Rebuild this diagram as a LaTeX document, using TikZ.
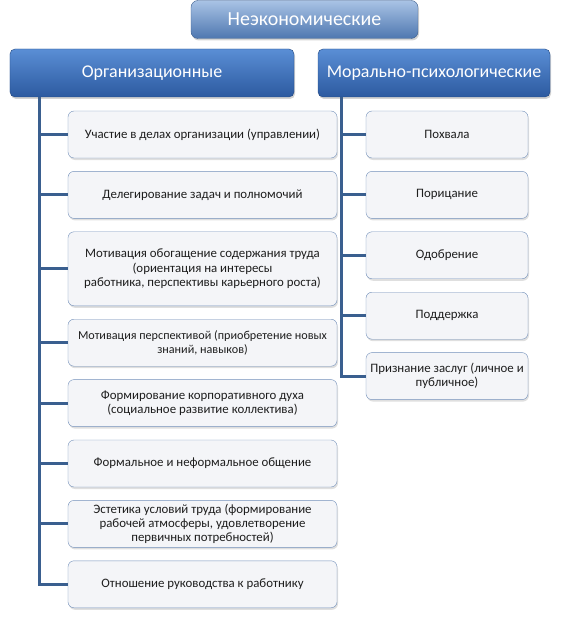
\documentclass[tikz,border=0pt]{standalone}
\usepackage{fontspec}
\setmainfont{Carlito}
\usetikzlibrary{positioning, shadows}

\definecolor{hdrtop}{HTML}{A9C3E5}
\definecolor{hdrmid}{HTML}{7097CB}
\definecolor{hdrbot}{HTML}{4E77B0}
\definecolor{cattop}{HTML}{5A8ED5}
\definecolor{catmid}{HTML}{3C71BF}
\definecolor{catbot}{HTML}{2C5AA0}
\definecolor{itemfill}{HTML}{F4F5F8}
\definecolor{itemline}{HTML}{7390BA}
\definecolor{linkblue}{HTML}{3A5F8F}
\definecolor{itemtext}{HTML}{1E1E1E}

\begin{document}
\begin{tikzpicture}[
    x=1bp, y=-1bp,
    node distance=13bp,
    topbox/.style={draw=hdrbot!80!black, rounded corners=7bp, top color=hdrtop, middle color=hdrmid, bottom color=hdrbot, text=white, minimum height=38bp, font=\fontsize{20}{24}\selectfont, drop shadow={opacity=0.35, shadow xshift=1bp, shadow yshift=-2bp}},
    catbox/.style={draw=catbot!80!black, rounded corners=5bp, top color=cattop, middle color=catmid, bottom color=catbot, text=white, minimum height=48bp, font=\fontsize{18}{21}\selectfont, drop shadow={opacity=0.35, shadow xshift=1bp, shadow yshift=-2bp}},
    itembox/.style={draw=itemline, rounded corners=6bp, fill=itemfill, text=itemtext, minimum height=47bp, inner xsep=2bp, align=center, font=\fontsize{12.9}{14.3}\selectfont, drop shadow={opacity=0.25, shadow xshift=1bp, shadow yshift=-2bp}},
    leftitem/.style={itembox, minimum width=269bp},
    rightitem/.style={itembox, minimum width=162bp},
    link/.style={draw=linkblue, line width=3bp}
]
\useasboundingbox (0,0) rectangle (564,617);

\node[topbox, minimum width=227bp] (neek) at (304.5,19.5) {Неэкономические};
\node[catbox, minimum width=284bp] (org) at (152,73) {Организационные};
\node[catbox, minimum width=232bp] (moral) at (434,73) {Морально-психологические};

% organizational
\node[leftitem] (o1) at (202.5,134.5) {Участие в делах организации (управлении)};
\node[leftitem, below=of o1] (o2) {Делегирование задач и полномочий};
\node[leftitem, below=of o2, minimum height=74bp] (o3) {Мотивация обогащение содержания труда\\(ориентация на интересы\\работника, перспективы карьерного роста)};
\node[leftitem, below=of o3, font=\fontsize{12.2}{14.3}\selectfont] (o4) {Мотивация перспективой (приобретение новых\\знаний, навыков)};
\node[leftitem, below=of o4] (o5) {Формирование корпоративного духа\\(социальное развитие коллектива)};
\node[leftitem, below=of o5] (o6) {Формальное и неформальное общение};
\node[leftitem, below=of o6] (o7) {Эстетика условий труда (формирование\\рабочей атмосферы, удовлетворение\\первичных потребностей)};
\node[leftitem, below=of o7] (o8) {Отношение руководства к работнику};

% moral
\node[rightitem] (m1) at (447,134.5) {Похвала};
\node[rightitem, below=of m1] (m2) {Порицание};
\node[rightitem, below=of m2] (m3) {Одобрение};
\node[rightitem, below=of m3] (m4) {Поддержка};
\node[rightitem, below=of m4] (m5) {Признание заслуг (личное и\\публичное)};

\coordinate (ltop) at ([xshift=30bp]org.south west);
\coordinate (rtop) at ([xshift=24bp]moral.south west);

\draw[link] (ltop) |- (o8.west);
\foreach \i in {1,...,7}
    \draw[link] (ltop |- o\i.west) -- (o\i.west);

\draw[link] (rtop) |- (m5.west);
\foreach \i in {1,...,4}
    \draw[link] (rtop |- m\i.west) -- (m\i.west);
\end{tikzpicture}
\end{document}
